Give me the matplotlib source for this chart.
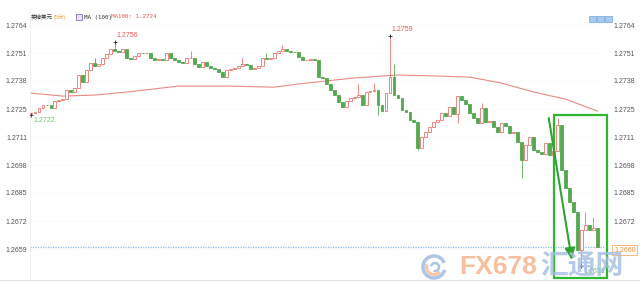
import matplotlib
matplotlib.use("Agg")
import matplotlib.pyplot as plt
import matplotlib.patches as patches
from matplotlib.lines import Line2D

plt.rcParams['font.family'] = ['Liberation Sans', 'Noto Sans CJK SC', 'DejaVu Sans']

# GBP/USD 5-minute candles (open of each bar = previous close)
first_open = 1.27223
closes = [
    1.27228, 1.27232, 1.27251, 1.27265, 1.27263, 1.27251, 1.27284, 1.27288, 1.27293, 1.27335,
    1.27326, 1.27345, 1.27406, 1.27373, 1.27429, 1.27462, 1.27448, 1.27457, 1.27485, 1.27504,
    1.27527, 1.27518, 1.27513, 1.27527, 1.27485, 1.27481, 1.27495, 1.27509, 1.27507, 1.27510,
    1.27485, 1.27476, 1.27480, 1.27476, 1.27509, 1.27485, 1.27476, 1.27467, 1.27464, 1.27485,
    1.27487, 1.27457, 1.27443, 1.27467, 1.27448, 1.27438, 1.27434, 1.27420, 1.27396, 1.27429,
    1.27434, 1.27438, 1.27448, 1.27457, 1.27452, 1.27434, 1.27438, 1.27448, 1.27485, 1.27481,
    1.27485, 1.27509, 1.27518, 1.27527, 1.27518, 1.27516, 1.27513, 1.27490, 1.27476, 1.27478,
    1.27481, 1.27476, 1.27396, 1.27392, 1.27363, 1.27335, 1.27312, 1.27279, 1.27256, 1.27284,
    1.27298, 1.27302, 1.27312, 1.27265, 1.27326, 1.27331, 1.27335, 1.27265, 1.27237, 1.27321,
    1.27396, 1.27312, 1.27298, 1.27242, 1.27232, 1.27195, 1.27185, 1.27063, 1.27115, 1.27138,
    1.27162, 1.27185, 1.27195, 1.27228, 1.27213, 1.27256, 1.27223, 1.27307, 1.27288, 1.27270,
    1.27228, 1.27204, 1.27181, 1.27251, 1.27185, 1.27190, 1.27162, 1.27138, 1.27181, 1.27167,
    1.27134, 1.27140, 1.27092, 1.27007, 1.27077, 1.27115, 1.27054, 1.27045, 1.27035, 1.27087,
    1.27031, 1.27049, 1.27171, 1.26960, 1.26876, 1.26810, 1.26763, 1.26585, 1.26680, 1.26702,
    1.26680, 1.26688, 1.26600,
]
wick_highs = {16: 1.27485, 21: 1.2756, 40: 1.27518, 53: 1.27485, 59: 1.27509, 63: 1.27546,
              82: 1.27363, 86: 1.27368, 90: 1.2759, 91: 1.27457, 113: 1.27274, 132: 1.27204,
              139: 1.26763, 141: 1.26740}
wick_lows = {0: 1.2722, 87: 1.27218, 97: 1.27054, 107: 1.27181, 123: 1.26923, 138: 1.2651}

# MA(100) read at a few bars
ma_idx = [0, 8, 16, 24, 37, 49, 61, 69, 74, 81, 92, 102, 110, 118, 126, 134, 142]
ma_vals = [1.27321, 1.27307, 1.27312, 1.27326, 1.27354, 1.27354, 1.27349, 1.27368, 1.27378,
           1.27392, 1.27406, 1.27401, 1.27396, 1.27368, 1.27326, 1.27293, 1.27237]
ma_last = "1.2724"

tick_vals = [1.2764, 1.27509, 1.27378, 1.27246, 1.27115, 1.26984, 1.26853, 1.26721, 1.2659]
tick_labels = ["1.2764", "1.2751", "1.2738", "1.2725", "1.2711", "1.2698", "1.2685", "1.2672", "1.2659"]
last_price = 1.2660

high_marks = [(21, 1.2756), (90, 1.2759)]
low_marks = [(0, 1.2722), (138, 1.2651)]

RED = "#ea7670"
GREEN = "#55a84f"

fig = plt.figure(figsize=(6.4, 3.0), dpi=100)
ax = fig.add_axes([30 / 640, 20 / 300, 575 / 640, 272 / 300])
ax.set_xlim(-0.25, 143.9)
ax.set_ylim(1.26445, 1.27720)

opens = [first_open] + closes[:-1]
for i, (o, c) in enumerate(zip(opens, closes)):
    up = c >= o
    col = RED if up else GREEN
    hi = wick_highs.get(i, max(o, c))
    lo = wick_lows.get(i, min(o, c))
    ax.vlines(i, lo, hi, color=col, lw=0.6, zorder=2)
    h = max(abs(c - o), 0.000012)
    ax.bar(i, h, bottom=min(o, c), width=0.72,
           facecolor="white" if up else GREEN, edgecolor=col, linewidth=0.6, zorder=3)

ax.plot(ma_idx, ma_vals, color="#e98a86", lw=0.8, zorder=1)

# current price line
ax.axhline(last_price, color="#8dbbe8", lw=0.9, ls=(0, (1, 1)), zorder=1)

# grid, ticks, frame
for t in tick_vals:
    ax.axhline(t, color="#f1f1f1", lw=0.6, ls=(0, (1, 2)), zorder=0)
ax.set_xticks([])
ax.set_yticks(tick_vals, tick_labels)
ax.tick_params(axis="y", length=0, labelsize=5, colors="#555555", pad=2)
for s in ["top", "right", "bottom"]:
    ax.spines[s].set_visible(False)
ax.spines["left"].set_color("#eeeeee")
ax.spines["left"].set_linestyle((0, (1, 1)))
ax.spines["left"].set_linewidth(0.6)

axr = ax.twinx()
axr.set_ylim(ax.get_ylim())
axr.set_yticks(tick_vals, tick_labels)
axr.tick_params(axis="y", length=0, labelsize=5, colors="#555555", pad=6)
for s in axr.spines.values():
    s.set_visible(False)

fig.add_artist(Line2D([0, 1], [20 / 300, 20 / 300], color="#e4e4e4", lw=0.8))

# high / low labels
for i, p in high_marks:
    ax.plot(i, p, marker="+", ms=3, color="#333333", mew=0.6, zorder=5)
    ax.annotate(f"{p:.4f}", (i, p), xytext=(1, 2), textcoords="offset points",
                fontsize=5, color="#e05a55", ha="left", va="bottom")
for i, p in low_marks:
    ax.plot(i, p, marker="+", ms=3, color="#333333", mew=0.6, zorder=5)
    ax.annotate(f"{p:.4f}", (i, p), xytext=(1.5, -1.5), textcoords="offset points",
                fontsize=5, color="#6cbf66", ha="left", va="top", zorder=9)

# green box and arrow drawn over the sell-off
box_x0, box_x1 = 131.1, 144.4
box_y0, box_y1 = 1.26454, 1.27218
ax.add_patch(patches.Rectangle((box_x0, box_y0), box_x1 - box_x0, box_y1 - box_y0,
                               fill=False, edgecolor="#2fb52f", lw=1.6, zorder=7, clip_on=False))
ax.annotate("", xy=(135.6, 1.26538), xytext=(129.8, 1.27204),
            arrowprops=dict(arrowstyle="-|>,head_length=0.7,head_width=0.3",
                            color="#32a332", lw=1.5, shrinkA=0, shrinkB=0), zorder=7)

# title row
ty = 1 - 17 / 300
fig.text(31 / 640, ty, "英镑美元", fontsize=4, color="#333333", va="center")
fig.text(54 / 640, ty, "(5分)", fontsize=4, color="#f0a040", va="center")
fig.add_artist(patches.Rectangle((76 / 640, ty - 3 / 300), 6 / 640, 6 / 300,
                                 transform=fig.transFigure, facecolor="#e8e4f6",
                                 edgecolor="#6b5bb5", lw=0.5))
fig.text(84 / 640, ty, "MA (100)", fontsize=4.2, color="#333333", va="center",
         family="DejaVu Sans Mono")
fig.text(111 / 640, ty, f"MA100: {ma_last}", fontsize=4.2, color="#e05a55", va="center",
         family="DejaVu Sans Mono")

# toolbar icons top right
for k in range(3):
    fig.add_artist(patches.Rectangle(((589 + 8 * k) / 640, 1 - 22 / 300), 7 / 640, 6 / 300,
                                     transform=fig.transFigure, facecolor="#a9cbee",
                                     edgecolor="#6fa3d8", lw=0.5))

# current price box
fig.text(614 / 640, 1 - 250 / 300, f"{last_price:.4f}", fontsize=5, color="#e6903a",
         va="center", ha="left",
         bbox=dict(boxstyle="square,pad=0.25", facecolor="white", edgecolor="#f2b06a", lw=0.6))

# watermark
cx, cy = 434 / 640, 1 - 267 / 300
fig.add_artist(patches.Arc((cx, cy), 22 / 640, 22 / 300, theta1=40, theta2=330,
                           transform=fig.transFigure, color="#9ab8e0", lw=2.5, alpha=0.8))
fig.add_artist(patches.Arc((cx, cy), 15 / 640, 15 / 300, theta1=140, theta2=300,
                           transform=fig.transFigure, color="#f6b894", lw=2.2, alpha=0.8))
fig.add_artist(patches.Arc((cx + 1 / 640, cy), 8 / 640, 8 / 300, theta1=-100, theta2=160,
                           transform=fig.transFigure, color="#9ab8e0", lw=1.8, alpha=0.8))
fig.text(498 / 640, cy, "FX678", fontsize=19, fontweight="bold", color="#f7b48e",
         alpha=0.85, ha="center", va="center",
         family=["Liberation Sans Narrow", "Liberation Sans", "DejaVu Sans"])
fig.text(582 / 640, cy, "汇通网", fontsize=20, fontweight="bold", color="#a3bde2",
         alpha=0.8, ha="center", va="center", family=["Noto Sans CJK SC", "DejaVu Sans"])

fig.savefig("out.png", dpi=100)
